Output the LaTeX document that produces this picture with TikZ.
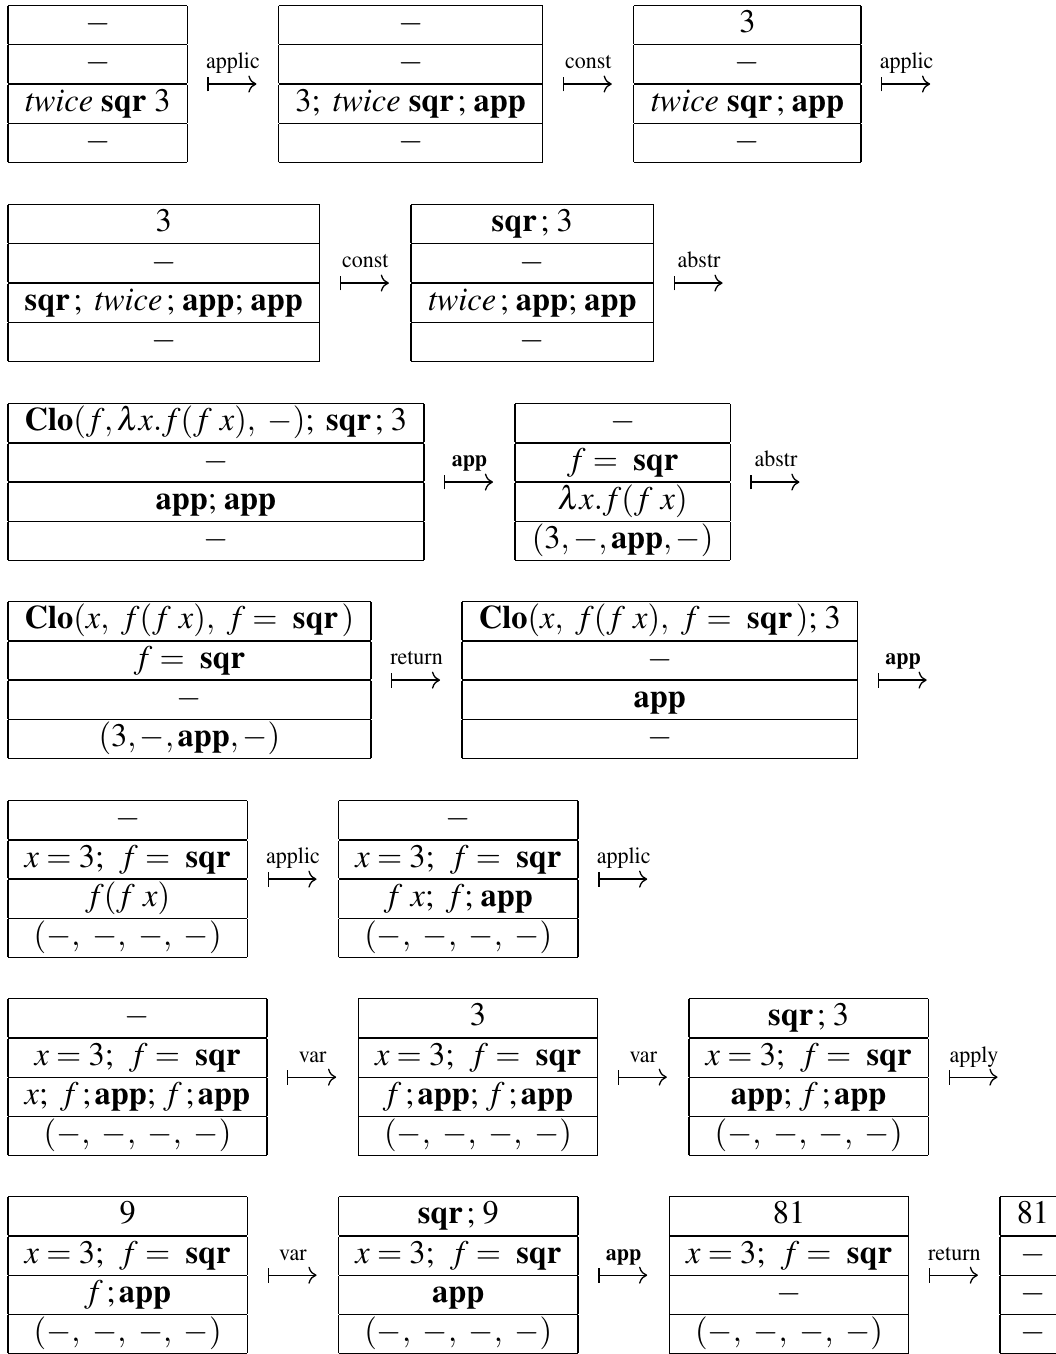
\documentclass[tikz,border=0pt]{standalone}
\usepackage{mathptmx}
\usepackage[T1]{fontenc}
\usetikzlibrary{arrows.meta,positioning}

\newcommand{\Sqr}{\mathbf{sqr}}
\newcommand{\App}{\mathbf{app}}
\newcommand{\Twice}{\mathit{twice}}
\newcommand{\Clo}{\mathbf{Clo}}
\newcommand{\Env}{x = 3;\ \,f = \ \Sqr}
\newcommand{\Nodump}{(-,\ -,\ -,\ -)}
\newcommand{\cfg}[4]{\begin{tabular}{|c|}\hline #1\\\hline #2\\\hline #3\\\hline #4\\\hline\end{tabular}}
\renewcommand{\arraystretch}{0.96}
\setlength{\tabcolsep}{5.2pt}

\begin{document}
\begin{tikzpicture}[node distance=27.7pt,
	cfgbox/.style={inner sep=0pt, outer sep=0pt, xscale=0.985, transform shape},
	trans/.style={{Bar[width=4.5pt]}-{To}, shorten <=6.1pt, shorten >=6.7pt},
	lbl/.style={font=\scriptsize, inner sep=0pt, anchor=base, yshift=4.6pt, xscale=0.955, transform shape}]
	\useasboundingbox (0,0) rectangle (321pt,-411.6pt);
	% row 1: applic, const, applic
	\node[cfgbox, anchor=north west] (c11) at (2.4pt,-1.5pt) {\cfg{$-$}{$-$}{$\Twice\ \Sqr\ 3$}{$-$}};
	\node[cfgbox, right=of c11] (c12) {\cfg{$-$}{$-$}{$3;\ \Twice\ \Sqr\,;\,\App$}{$-$}};
	\node[cfgbox, right=of c12] (c13) {\cfg{$3$}{$-$}{$\Twice\ \Sqr\,;\,\App$}{$-$}};
	\coordinate[right=of c13] (e1);
	\draw[trans] (c11) -- (c12) node[lbl, midway] {applic};
	\draw[trans] (c12) -- (c13) node[lbl, midway] {const};
	\draw[trans] (c13) -- (e1) node[lbl, midway] {applic};
	% row 2: const, abstr
	\node[cfgbox, anchor=north west] (c21) at (2.4pt,-62pt) {\cfg{$3$}{$-$}{$\Sqr\,;\ \Twice\,;\,\App;\,\App$}{$-$}};
	\node[cfgbox, right=of c21] (c22) {\cfg{$\Sqr\,;\,3$}{$-$}{$\Twice\,;\,\App;\,\App$}{$-$}};
	\coordinate[right=of c22] (e2);
	\draw[trans] (c21) -- (c22) node[lbl, midway] {const};
	\draw[trans] (c22) -- (e2) node[lbl, midway] {abstr};
	% row 3: app, abstr
	\node[cfgbox, anchor=north west] (c31) at (2.4pt,-122.5pt) {\cfg{$\Clo(f, \lambda x.f(f\ x),\ -);\ \Sqr\,;\,3$}{$-$}{$\App;\,\App$}{$-$}};
	\node[cfgbox, right=of c31] (c32) {\cfg{$-$}{$f = \ \Sqr$}{$\lambda x.f(f\ x)$}{$(3, -, \App, -)$}};
	\coordinate[right=of c32] (e3);
	\draw[trans] (c31) -- (c32) node[lbl, midway] {\textbf{app}};
	\draw[trans] (c32) -- (e3) node[lbl, midway] {abstr};
	% row 4: return, app
	\node[cfgbox, anchor=north west] (c41) at (2.4pt,-182.7pt) {\cfg{$\Clo(x,\ f(f\ x),\ f = \ \Sqr\,)$}{$f = \ \Sqr$}{$-$}{$(3, -, \App, -)$}};
	\node[cfgbox, right=of c41] (c42) {\cfg{$\Clo(x,\ f(f\ x),\ f = \ \Sqr\,);\,3$}{$-$}{$\App$}{$-$}};
	\coordinate[right=of c42] (e4);
	\draw[trans] (c41) -- (c42) node[lbl, midway] {return};
	\draw[trans] (c42) -- (e4) node[lbl, midway] {\textbf{app}};
	% row 5: applic, applic
	\node[cfgbox, anchor=north west] (c51) at (2.4pt,-243.2pt) {\cfg{$-$}{$\Env$}{$f(f\ x)$}{$\Nodump$}};
	\node[cfgbox, right=of c51] (c52) {\cfg{$-$}{$\Env$}{$f\ x;\ f;\,\App$}{$\Nodump$}};
	\coordinate[right=of c52] (e5);
	\draw[trans] (c51) -- (c52) node[lbl, midway] {applic};
	\draw[trans] (c52) -- (e5) node[lbl, midway] {applic};
	% row 6: var, var, apply
	\node[cfgbox, anchor=north west] (c61) at (2.4pt,-303.4pt) {\cfg{$-$}{$\Env$}{$x;\ f\,;\App;\,f\,;\App$}{$\Nodump$}};
	\node[cfgbox, right=of c61] (c62) {\cfg{$3$}{$\Env$}{$f\,;\App;\,f\,;\App$}{$\Nodump$}};
	\node[cfgbox, right=of c62] (c63) {\cfg{$\Sqr\,;\,3$}{$\Env$}{$\App;\,f\,;\App$}{$\Nodump$}};
	\coordinate[right=of c63] (e6);
	\draw[trans] (c61) -- (c62) node[lbl, midway] {var};
	\draw[trans] (c62) -- (c63) node[lbl, midway] {var};
	\draw[trans] (c63) -- (e6) node[lbl, midway] {apply};
	% row 7: var, app, return
	\node[cfgbox, anchor=north west] (c71) at (2.4pt,-363.6pt) {\cfg{$9$}{$\Env$}{$f\,;\App$}{$\Nodump$}};
	\node[cfgbox, right=of c71] (c72) {\cfg{$\Sqr\,;\,9$}{$\Env$}{$\App$}{$\Nodump$}};
	\node[cfgbox, right=of c72] (c73) {\cfg{$81$}{$\Env$}{$-$}{$\Nodump$}};
	\node[cfgbox, right=of c73] (c74) {\cfg{$81$}{$-$}{$-$}{$-$}};
	\draw[trans] (c71) -- (c72) node[lbl, midway] {var};
	\draw[trans] (c72) -- (c73) node[lbl, midway] {\textbf{app}};
	\draw[trans] (c73) -- (c74) node[lbl, midway] {return};
\end{tikzpicture}
\end{document}
